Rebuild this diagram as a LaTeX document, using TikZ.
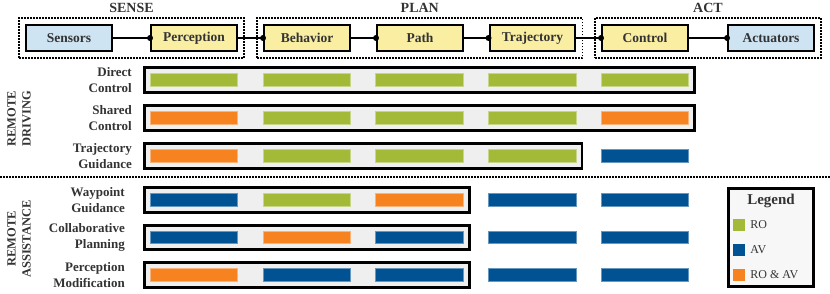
\documentclass[tikz,border=0pt]{standalone}
\usepackage{fontspec}
\setmainfont{Liberation Serif}
\usetikzlibrary{positioning,fit,backgrounds}
\definecolor{txt}{HTML}{333333}
\definecolor{ro}{HTML}{A2BA38}
\definecolor{av}{HTML}{005293}
\definecolor{roav}{HTML}{F68220}
\definecolor{hwbox}{HTML}{CFE4F2}
\definecolor{swbox}{HTML}{F9EEA2}
\definecolor{rowgray}{HTML}{EFEFEF}
\definecolor{leggray}{HTML}{F7F7F7}

\begin{document}
\begin{tikzpicture}[x=1pt, y=-1pt,
    module/.style={draw=black, line width=2.4pt, minimum width=85.5pt, minimum height=25.5pt, inner sep=0pt, text=txt, font=\bfseries\fontsize{13.5}{16}\selectfont},
    hw/.style={module, fill=hwbox},
    sw/.style={module, fill=swbox},
    group/.style={draw=black, line width=1.5pt, dash pattern=on 1.5pt off 1.5pt, inner sep=6pt},
    grouplabel/.style={text=txt, font=\bfseries\fontsize{14}{16}\selectfont, inner sep=0pt},
    link/.style={line width=2pt},
    bar/.style={draw=#1!60, fill=#1, line width=0.6pt, minimum width=87.5pt, minimum height=12.5pt, inner sep=0pt},
    rowframe/.style={draw=black, line width=2.6pt, fill=rowgray, inner sep=5.7pt},
    rowlabel/.style={align=right, anchor=east, text=txt, font=\bfseries\fontsize{13}{16}\selectfont, inner sep=0pt},
    section/.style={rotate=90, align=center, text=txt, font=\bfseries\fontsize{12.5}{15}\selectfont, inner sep=0pt},
    sep/.style={line width=1.5pt, dash pattern=on 1.5pt off 1.5pt},
    legendbox/.style={draw=black, line width=2.6pt, fill=leggray, minimum width=85.5pt, minimum height=98.5pt},
    key/.style={fill=#1, minimum size=12pt, inner sep=0pt},
    keytext/.style={text=txt, font=\fontsize{12}{14}\selectfont, inner sep=0pt}
]
\useasboundingbox (0,0) rectangle (830,294);

% software stack
\node[hw] (sensors) at (69,38) {Sensors};
\node[sw] (perception) at (194,38) {Perception};
\node[sw] (behavior) at (307,38) {Behavior};
\node[sw] (pathplan) at (420,38) {Path};
\node[sw] (trajectory) at (532.5,38) {Trajectory};
\node[sw] (control) at (645,38) {Control};
\node[hw] (actuators) at (771,38) {Actuators};

\foreach \a/\b in {sensors/perception, perception/behavior, behavior/pathplan, pathplan/trajectory, trajectory/control, control/actuators} {
    \draw[link] (\a.east) -- (\b.west);
    \fill (\b.west) circle (3pt);
}

\node[group, fit=(sensors)(perception)] (sense) {};
\node[group, fit=(behavior)(trajectory)] (plan) {};
\node[group, fit=(control)(actuators)] (act) {};
\node[grouplabel, anchor=base] (sense-lab) at ([yshift=4.5pt]sense.north) {SENSE};
\node[grouplabel, anchor=base] (plan-lab) at ([yshift=4.5pt]plan.north) {PLAN};
\node[grouplabel, anchor=base] (act-lab) at ([yshift=4.5pt]act.north) {ACT};

% concepts
\foreach \row/\y/\cols/\n in {dc/80/{ro,ro,ro,ro,ro}/5, sc/118/{roav,ro,ro,ro,roav}/5, tg/156/{roav,ro,ro,ro,av}/4,
        wg/200/{av,ro,roav,av,av}/3, cp/237.5/{av,roav,av,av,av}/3, pm/275/{roav,av,av,av,av}/3} {
    \foreach \col [count=\i] in \cols
        \node[bar=\col] (\row-\i) at ({194+(\i-1)*112.75}, \y) {};
    \begin{scope}[on background layer]
        \node[rowframe, fit=(\row-1)(\row-\n)] (\row-frame) {};
    \end{scope}
}

\node[rowlabel] (dc-lab) at (132,80) {Direct\\Control};
\node[rowlabel] (sc-lab) at (132,118) {Shared\\Control};
\node[rowlabel] (tg-lab) at (132,156) {Trajectory\\Guidance};
\node[rowlabel] (wg-lab) at (125,200) {Waypoint\\Guidance};
\node[rowlabel] (cp-lab) at (125,237.5) {Collaborative\\Planning};
\node[rowlabel] (pm-lab) at (125,275) {Perception\\Modification};

\node[section] (driving) at (19,119) {REMOTE\\DRIVING};
\node[section] (assistance) at (19,239) {REMOTE\\ASSISTANCE};
\draw[sep] (0,177) -- (830,177);

% legend
\node[legendbox] (legend) at (771,237.5) {};
\node[grouplabel, font=\bfseries\fontsize{15}{17}\selectfont] (legend-lab) at (771,201) {Legend};
\foreach \col/\t/\y in {ro/RO/225, av/AV/250, roav/RO \& AV/275} {
    \node[key=\col] (key-\col) at (739,\y) {};
    \node[keytext, right=5pt of key-\col] (key-\col-lab) {\t};
}
\end{tikzpicture}
\end{document}
